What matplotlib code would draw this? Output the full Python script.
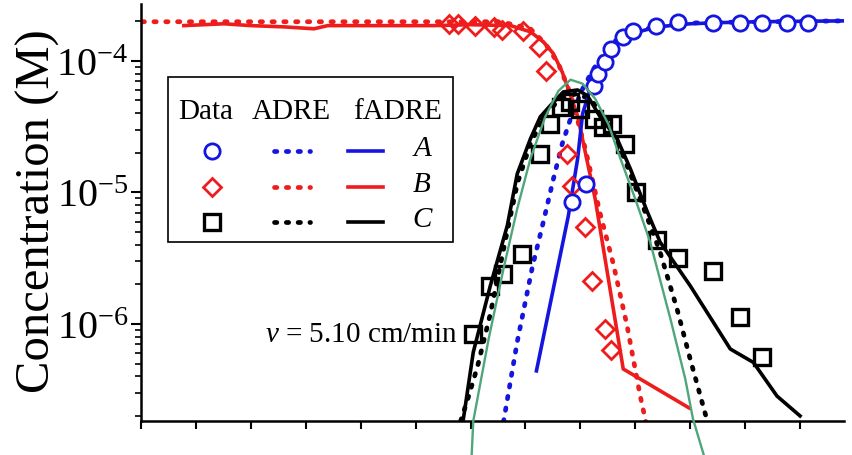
import matplotlib
matplotlib.use("Agg")
import matplotlib.pyplot as plt
from matplotlib.patches import Rectangle
from matplotlib.lines import Line2D

plt.rcParams['font.family'] = ['Liberation Serif', 'DejaVu Serif']
plt.rcParams['mathtext.fontset'] = 'custom'
plt.rcParams['mathtext.rm'] = 'Liberation Serif'
plt.rcParams['mathtext.it'] = 'Liberation Serif:italic'

RED = '#ee1c1c'
BLUE = '#1515e0'
BLACK = '#000000'
GREEN = '#4fa67a'

# ---- data (x in axis tick units, y in M) ----
B_data_x = [5.60, 5.78, 6.09, 6.42, 6.58, 6.95, 7.24, 7.38, 7.76, 7.84, 8.09, 8.22, 8.44, 8.56]
B_data_y = [1.91e-4, 1.91e-4, 1.85e-4, 1.82e-4, 1.72e-4, 1.69e-4, 1.28e-4, 8.4e-5,
            1.96e-5, 1.12e-5, 5.5e-6, 2.12e-6, 9.2e-7, 6.3e-7]

B_adre_x = [0.02, 2.91, 6.55, 7.09, 7.36, 7.60, 7.82, 8.09, 8.36, 8.60, 8.85, 9.09, 9.20]
B_adre_y = [1.98e-4, 1.98e-4, 1.98e-4, 1.75e-4, 1.35e-4, 9.5e-5, 5.6e-5, 2.14e-5,
            6.9e-6, 2.86e-6, 9.7e-7, 2.83e-7, 1.74e-7]

B_fadre_x = [0.78, 1.51, 2.0, 2.6, 3.15, 3.4, 3.95, 4.55, 5.33, 6.0, 6.73, 7.09, 7.33,
             7.51, 7.67, 7.78, 7.95, 8.27, 8.78, 9.98]
B_fadre_y = [1.85e-4, 1.91e-4, 1.85e-4, 1.81e-4, 1.75e-4, 1.85e-4, 1.85e-4, 1.85e-4,
             1.85e-4, 1.88e-4, 1.85e-4, 1.66e-4, 1.39e-4, 1.13e-4, 8.2e-5, 6.1e-5,
             3.8e-5, 8.9e-6, 4.55e-7, 2.3e-7]

A_data_x = [7.85, 8.11, 8.24, 8.33, 8.44, 8.55, 8.78, 8.96, 9.38, 9.78, 10.42, 10.91,
            11.31, 11.76, 12.15]
A_data_y = [8.5e-6, 1.16e-5, 6.45e-5, 7.96e-5, 9.8e-5, 1.23e-4, 1.52e-4, 1.69e-4,
            1.85e-4, 1.98e-4, 1.95e-4, 1.95e-4, 1.95e-4, 1.95e-4, 1.95e-4]

A_adre_x = [6.6, 6.85, 7.13, 7.31, 7.51, 7.67, 7.85, 8.04, 8.22, 8.42, 8.64, 8.91,
            9.45, 10.18, 12.78]
A_adre_y = [1.8e-7, 7.3e-7, 2.76e-6, 5.6e-6, 1.27e-5, 2.34e-5, 3.95e-5, 6.1e-5,
            8.4e-5, 1.13e-4, 1.42e-4, 1.63e-4, 1.85e-4, 1.95e-4, 2.01e-4]

A_fadre_x = [7.2, 7.78, 7.95, 8.04, 8.18, 8.36, 8.6, 8.91, 9.4, 10.0, 10.55, 11.27, 12.78]
A_fadre_y = [4.4e-7, 6.6e-6, 1.8e-5, 3.95e-5, 6.1e-5, 9.0e-5, 1.35e-4, 1.6e-4,
             1.81e-4, 1.91e-4, 1.95e-4, 1.98e-4, 2.01e-4]

C_data_x = [6.04, 6.36, 6.6, 6.93, 7.27, 7.45, 7.64, 7.82, 8.0, 8.24, 8.42, 8.58,
            8.82, 9.02, 9.4, 9.78, 10.42, 10.91, 11.31]
C_data_y = [8.4e-7, 1.95e-6, 2.4e-6, 3.4e-6, 1.96e-5, 3.3e-5, 4.47e-5, 4.88e-5,
            4.31e-5, 3.62e-5, 3.15e-5, 3.3e-5, 2.34e-5, 1.01e-5, 4.35e-6, 3.18e-6,
            2.53e-6, 1.13e-6, 5.6e-7]

C_adre_x = [5.82, 5.95, 6.13, 6.36, 6.64, 6.85, 7.09, 7.36, 7.64, 7.91, 8.18, 8.45,
            8.73, 9.09, 9.45, 9.76, 10.0, 10.31]
C_adre_y = [1.83e-7, 2.69e-7, 4.8e-7, 1.19e-6, 4.43e-6, 1.16e-5, 2.34e-5, 3.95e-5,
            5.14e-5, 5.6e-5, 5.14e-5, 3.62e-5, 2.14e-5, 8.9e-6, 3.53e-6, 1.3e-6,
            5.4e-7, 1.83e-7]

C_fadre_x = [5.87, 6.05, 6.36, 6.67, 6.85, 7.09, 7.27, 7.45, 7.69, 7.95, 8.13, 8.36,
             8.67, 8.91, 9.22, 9.45, 10.0, 10.73, 11.15, 11.58, 12.0]
C_fadre_y = [1.9e-7, 6.1e-7, 1.95e-6, 5.6e-6, 1.38e-5, 2.55e-5, 3.75e-5, 4.55e-5,
             5.8e-5, 6.0e-5, 5.42e-5, 3.75e-5, 2.55e-5, 1.51e-5, 7.1e-6, 4.2e-6,
             1.95e-6, 6.45e-7, 5.1e-7, 2.83e-7, 2.0e-7]

G_x = [6.02, 6.05, 6.33, 6.6, 6.85, 7.09, 7.36, 7.6, 7.82, 8.04, 8.27, 8.51, 8.73,
       9.0, 9.27, 9.64, 9.91, 10.05, 10.25]
G_y = [1.0e-7, 1.83e-7, 7.7e-7, 2.62e-6, 7.5e-6, 1.8e-5, 3.75e-5, 5.9e-5, 7.18e-5,
       6.7e-5, 5.14e-5, 3.3e-5, 1.8e-5, 8.9e-6, 4.2e-6, 1.09e-6, 3.82e-7, 1.9e-7, 1.0e-7]

x_ticks = list(range(13))
y_ticks = [1e-6, 1e-5, 1e-4]
y_ticklabels = [r'$10^{-6}$', r'$10^{-5}$', r'$10^{-4}$']
annotation = r'$v$ = 5.10 cm/min'
ylabel = 'Concentration (M)'

# ---- figure ----
fig = plt.figure(figsize=(8.52, 4.56), dpi=100)
ax = fig.add_axes([141/852, (456-422)/456, (844-141)/852, (422-5)/456])
ax.set_yscale('log')
ax.set_xlim(0, 12.8)
ax.set_ylim(1.83e-7, 2.7e-4)

dot = (0, (0.5, 2.0))
lw_line = 2.6
lw_dot = 3.4
ax.plot(B_adre_x, B_adre_y, color=RED, lw=lw_dot, ls=dot, dash_capstyle='round')
ax.plot(A_adre_x, A_adre_y, color=BLUE, lw=lw_dot, ls=dot, dash_capstyle='round')
ax.plot(C_adre_x, C_adre_y, color=BLACK, lw=lw_dot, ls=dot, dash_capstyle='round')
ax.plot(B_fadre_x, B_fadre_y, color=RED, lw=lw_line)
ax.plot(A_fadre_x, A_fadre_y, color=BLUE, lw=lw_line)
ax.plot(C_fadre_x, C_fadre_y, color=BLACK, lw=lw_line)

ax.plot(B_data_x, B_data_y, ls='none', marker='D', ms=9, mfc='none', mec=RED, mew=2.0)
ax.plot(A_data_x, A_data_y, ls='none', marker='o', ms=11, mfc='white', mec=BLUE, mew=2.0)
ax.plot(C_data_x, C_data_y, ls='none', marker='s', ms=12, mfc='none', mec=BLACK, mew=2.4)

ax.plot(G_x, G_y, color=GREEN, lw=1.7, clip_on=False, zorder=5)

for s in ['top', 'right']:
    ax.spines[s].set_visible(False)
for s in ['left', 'bottom']:
    ax.spines[s].set_linewidth(1.8)

ax.set_xticks(x_ticks)
ax.set_xticklabels([])
ax.tick_params(axis='x', which='major', direction='out', length=6, width=1.5)
ax.set_yticks(y_ticks)
ax.set_yticklabels(y_ticklabels, fontsize=29)
ax.tick_params(axis='y', which='major', direction='out', length=7, width=1.5, pad=2)
ax.tick_params(axis='y', which='minor', direction='out', length=4, width=1.2)
ax.yaxis.set_minor_formatter(plt.NullFormatter())

fig.text(38/852, 1 - 211/456, ylabel, fontsize=35, rotation=90, ha='center', va='center')

fig.text(265/852, 1 - 335/456, annotation, fontsize=21, ha='left', va='center')

# ---- legend (drawn manually) ----
def fx(px):
    return px / 852
def fy(py):
    return 1 - py / 456

fig.patches.append(Rectangle((fx(168), fy(243)), fx(453) - fx(168), fy(78) - fy(243),
                             transform=fig.transFigure, fill=False, ec='black', lw=1.2))
for txt, cx in [('Data', 206), ('ADRE', 291), ('fADRE', 397)]:
    fig.text(fx(cx), fy(112), txt, fontsize=21, ha='center', va='center')

rows = [(BLUE, 'o', 11, 'white', 2.0, 'A', 152),
        (RED, 'D', 9, 'none', 2.0, 'B', 188),
        (BLACK, 's', 12, 'none', 2.4, 'C', 223)]
for col, mk, ms, mfc, mew, lab, py in rows:
    fig.lines.append(Line2D([fx(212)], [fy(py)], transform=fig.transFigure, ls='none',
                            marker=mk, ms=ms, mfc=mfc, mec=col, mew=mew))
    fig.lines.append(Line2D([fx(274), fx(310)], [fy(py), fy(py)], transform=fig.transFigure,
                            color=col, lw=lw_dot, ls=dot, dash_capstyle='round'))
    fig.lines.append(Line2D([fx(348), fx(383)], [fy(py), fy(py)], transform=fig.transFigure,
                            color=col, lw=lw_line))
    fig.text(fx(422), fy(py - 3), lab, fontsize=21, style='italic', ha='center', va='center')

fig.savefig('out.png', dpi=100)
